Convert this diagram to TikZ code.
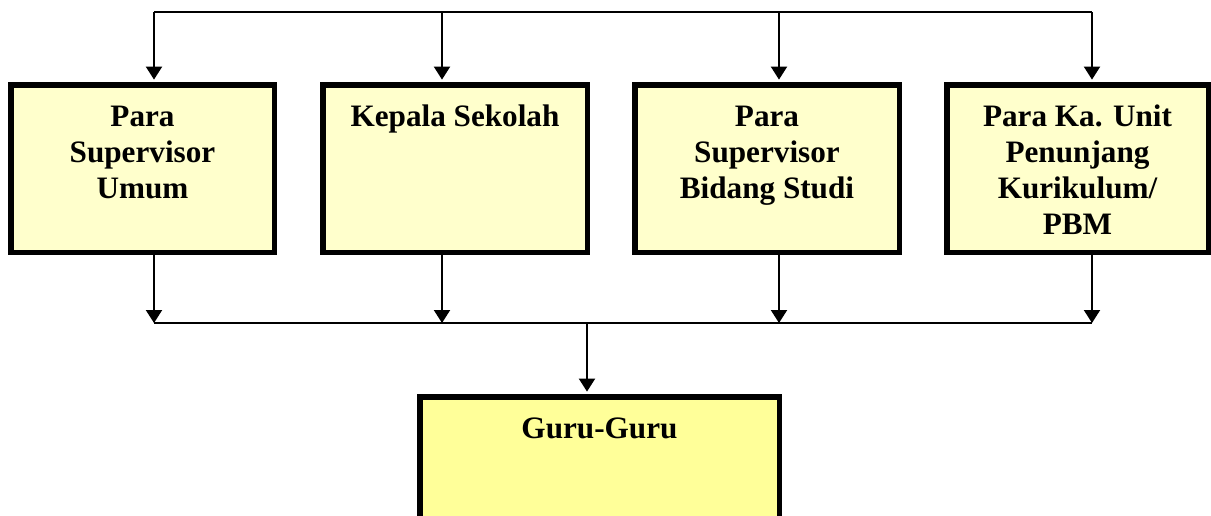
\documentclass[tikz,border=0pt]{standalone}
\usepackage{fontspec}
\setmainfont{Liberation Serif}
\usetikzlibrary{arrows.meta}
\definecolor{paleyellow}{HTML}{FFFFCC}
\definecolor{guruyellow}{HTML}{FFFF99}
\newcommand{\boxcontent}[3]{\parbox[c][#2][t]{#1}{\centering\rule{0pt}{21pt}#3}}
\begin{document}
\begin{tikzpicture}[x=0.5pt,y=-0.5pt,
  box/.style={draw=black, line width=2.75pt, inner sep=0pt,
    font=\fontsize{15.6pt}{18pt}\selectfont\bfseries},
  topbox/.style={box, fill=paleyellow},
  gurubox/.style={box, fill=guruyellow},
  conn/.style={line width=0.8pt},
  arr/.style={line width=1pt, -{Triangle[width=8pt,length=6.5pt]}, shorten >=1.2pt}]
\useasboundingbox (0,0) rectangle (1211,515);
\begin{scope}
\clip (0,0) rectangle (1211,515);
\node[topbox] (b1) at (142.5,168.5) {\boxcontent{131.75pt}{83.75pt}{Para\\Supervisor\\Umum}};
\node[topbox] (b2) at (455,168.5) {\boxcontent{132.25pt}{83.75pt}{Kepala Sekolah}};
\node[topbox] (b3) at (767,168.5) {\boxcontent{132.25pt}{83.75pt}{Para\\Supervisor\\Bidang Studi}};
\node[topbox] (b4) at (1077.5,168.5) {\boxcontent{130.75pt}{83.75pt}{Para Ka. Unit\\Penunjang\\Kurikulum/\\PBM}};
\node[gurubox] (g) at (599.5,466) {\boxcontent{179.75pt}{69.25pt}{Guru-Guru}};

\coordinate (t1) at (154,12);
\coordinate (t2) at (442,12);
\coordinate (t3) at (779,12);
\coordinate (t4) at (1092,12);
\coordinate (d1) at (154,323);
\coordinate (d2) at (442,323);
\coordinate (d3) at (779,323);
\coordinate (d4) at (1092,323);
\coordinate (dm) at (587,323);

\draw[conn] (t1) -- (t4);
\draw[conn] (d1) -- (d4);
\foreach \i in {1,2,3,4}{
  \draw[arr] (t\i) -- (t\i |- b\i.north);
  \draw[arr, shorten >=0pt] (b\i.south -| d\i) -- (d\i);
}
\draw[arr] (dm) -- (dm |- g.north);
\end{scope}
\end{tikzpicture}
\end{document}
